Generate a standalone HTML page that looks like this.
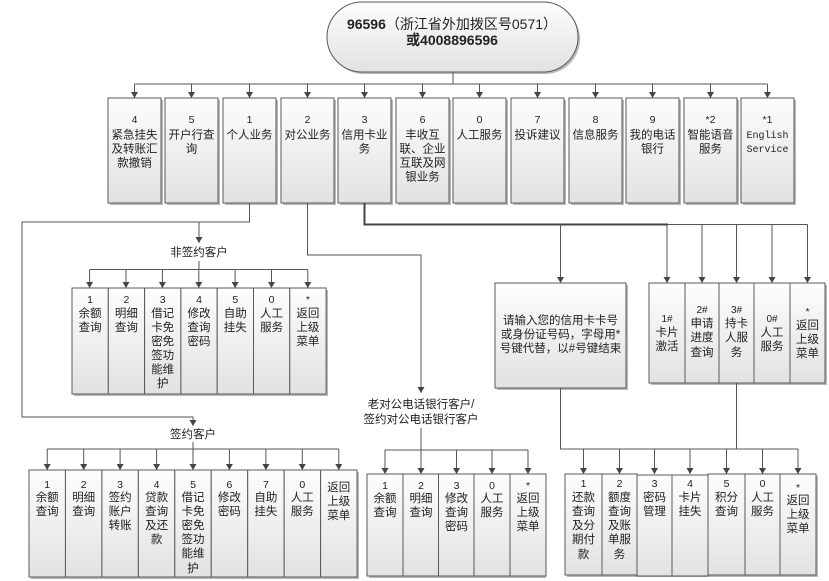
<!DOCTYPE html>
<html><head><meta charset="utf-8"><style>
html,body{margin:0;padding:0;background:#fff;}
svg{display:block;}
text{font-family:"Liberation Sans","Noto Sans CJK SC",sans-serif;font-size:11.5px;fill:#222;text-anchor:middle;}
.d{font-size:10.5px;}
.s{font-size:10px;}
.m{font-family:"Liberation Mono",monospace;font-size:10px;}
.ln{fill:none;stroke:#555;stroke-width:1;}
.ar{fill:none;stroke:#555;stroke-width:1;marker-end:url(#a);}
.bx{fill:url(#g);stroke:#5a5a5a;stroke-width:1;}
.sh{fill:#b8b8b8;stroke:none;}
</style></head><body>
<svg width="829" height="581" viewBox="0 0 829 581" xmlns="http://www.w3.org/2000/svg">
<defs>
<linearGradient id="g" x1="0" y1="0" x2="0" y2="1"><stop offset="0" stop-color="#fdfdfd"/><stop offset="1" stop-color="#e2e2e2"/></linearGradient>
<marker id="a" markerUnits="userSpaceOnUse" markerWidth="8" markerHeight="8" refX="6" refY="3.5" orient="auto"><path d="M0,0 L6,3.5 L0,7 z" fill="#444"/></marker>
</defs>

<!-- top pill -->
<rect x="329" y="4" width="251" height="70" rx="35" class="sh"/>
<rect x="327" y="2" width="251" height="70" rx="35" class="bx"/>
<text x="452" y="29" style="font-size:14px"><tspan font-weight="bold">96596</tspan>（浙江省外加拨区号0571）</text>
<text x="452" y="45" style="font-size:14px;font-weight:bold">或4008896596</text>

<!-- top connectors -->
<path class="ln" d="M453,72 V84 M134.5,84 H767.5"/>
<path class="ar" d="M134.5,84 V98"/><path class="ar" d="M191.5,84 V98"/><path class="ar" d="M249.5,84 V98"/><path class="ar" d="M307.5,84 V98"/>
<path class="ar" d="M364.5,84 V98"/><path class="ar" d="M422.5,84 V98"/><path class="ar" d="M479.5,84 V98"/><path class="ar" d="M537.5,84 V98"/>
<path class="ar" d="M595.5,84 V98"/><path class="ar" d="M652.5,84 V98"/><path class="ar" d="M710.5,84 V98"/><path class="ar" d="M767.5,84 V98"/>

<!-- row 1 boxes -->
<g>
<rect x="110" y="100" width="53" height="105" class="sh"/><rect x="108" y="98" width="53" height="105" class="bx"/>
<rect x="167" y="100" width="53" height="105" class="sh"/><rect x="165" y="98" width="53" height="105" class="bx"/>
<rect x="225" y="100" width="53" height="105" class="sh"/><rect x="223" y="98" width="53" height="105" class="bx"/>
<rect x="283" y="100" width="53" height="105" class="sh"/><rect x="281" y="98" width="53" height="105" class="bx"/>
<rect x="340" y="100" width="53" height="105" class="sh"/><rect x="338" y="98" width="53" height="105" class="bx"/>
<rect x="398" y="100" width="53" height="105" class="sh"/><rect x="396" y="98" width="53" height="105" class="bx"/>
<rect x="455" y="100" width="53" height="105" class="sh"/><rect x="453" y="98" width="53" height="105" class="bx"/>
<rect x="513" y="100" width="53" height="105" class="sh"/><rect x="511" y="98" width="53" height="105" class="bx"/>
<rect x="571" y="100" width="53" height="105" class="sh"/><rect x="569" y="98" width="53" height="105" class="bx"/>
<rect x="628" y="100" width="53" height="105" class="sh"/><rect x="626" y="98" width="53" height="105" class="bx"/>
<rect x="686" y="100" width="53" height="105" class="sh"/><rect x="684" y="98" width="53" height="105" class="bx"/>
<rect x="743" y="100" width="53" height="105" class="sh"/><rect x="741" y="98" width="53" height="105" class="bx"/>
</g>
<text class="d" x="134.5" y="123">4</text><text x="134.5" y="138.5">紧急挂失</text><text x="134.5" y="152.5">及转账汇</text><text x="134.5" y="166.5">款撤销</text>
<text class="d" x="191.5" y="123">5</text><text x="191.5" y="138.5">开户行查</text><text x="191.5" y="152.5">询</text>
<text class="d" x="249.5" y="123">1</text><text x="249.5" y="138.5">个人业务</text>
<text class="d" x="307.5" y="123">2</text><text x="307.5" y="138.5">对公业务</text>
<text class="d" x="364.5" y="123">3</text><text x="364.5" y="138.5">信用卡业</text><text x="364.5" y="152.5">务</text>
<text class="d" x="422.5" y="123">6</text><text x="422.5" y="138.5">丰收互</text><text x="422.5" y="152.5">联、企业</text><text x="422.5" y="166.5">互联及网</text><text x="422.5" y="180.5">银业务</text>
<text class="d" x="479.5" y="123">0</text><text x="479.5" y="138.5">人工服务</text>
<text class="d" x="537.5" y="123">7</text><text x="537.5" y="138.5">投诉建议</text>
<text class="d" x="595.5" y="123">8</text><text x="595.5" y="138.5">信息服务</text>
<text class="d" x="652.5" y="123">9</text><text x="652.5" y="138.5">我的电话</text><text x="652.5" y="152.5">银行</text>
<text class="d" x="710.5" y="123">*2</text><text x="710.5" y="138.5">智能语音</text><text x="710.5" y="152.5">服务</text>
<text class="d" x="767.5" y="123">*1</text><text class="m" x="767.5" y="138">English</text><text class="m" x="767.5" y="152">Service</text>

<!-- personal business connectors -->
<path class="ar" d="M249.5,203 V222 H22 V417 H193 V426"/>
<path class="ar" d="M199,222 V243"/>
<text x="199" y="256">非签约客户</text>
<path class="ln" d="M199,261 V269.5 M89.6,269.5 H307.8"/>
<path class="ar" d="M89.6,269.5 V288"/><path class="ar" d="M126,269.5 V288"/><path class="ar" d="M162.4,269.5 V288"/><path class="ar" d="M198.8,269.5 V288"/>
<path class="ar" d="M235.1,269.5 V288"/><path class="ar" d="M271.5,269.5 V288"/><path class="ar" d="M307.8,269.5 V288"/>

<!-- non-signed boxes -->
<rect x="74" y="290" width="254" height="106" class="sh"/>
<rect x="72" y="288" width="36.3" height="106" class="bx"/>
<rect x="108.3" y="288" width="36.3" height="106" class="bx"/>
<rect x="144.6" y="288" width="36.3" height="106" class="bx"/>
<rect x="180.9" y="288" width="36.3" height="106" class="bx"/>
<rect x="217.2" y="288" width="36.3" height="106" class="bx"/>
<rect x="253.5" y="288" width="36.3" height="106" class="bx"/>
<rect x="289.8" y="288" width="36.3" height="106" class="bx"/>
<text class="d" x="90.1" y="303">1</text><text x="90.1" y="317">余额</text><text x="90.1" y="331">查询</text>
<text class="d" x="126.4" y="303">2</text><text x="126.4" y="317">明细</text><text x="126.4" y="331">查询</text>
<text class="d" x="162.7" y="303">3</text><text x="162.7" y="317">借记</text><text x="162.7" y="331">卡免</text><text x="162.7" y="345">密免</text><text x="162.7" y="359">签功</text><text x="162.7" y="373">能维</text><text x="162.7" y="387">护</text>
<text class="d" x="199" y="303">4</text><text x="199" y="317">修改</text><text x="199" y="331">查询</text><text x="199" y="345">密码</text>
<text class="d" x="235.3" y="303">5</text><text x="235.3" y="317">自助</text><text x="235.3" y="331">挂失</text>
<text class="d" x="271.6" y="303">0</text><text x="271.6" y="317">人工</text><text x="271.6" y="331">服务</text>
<text class="d" x="307.9" y="303">*</text><text x="307.9" y="317">返回</text><text x="307.9" y="331">上级</text><text x="307.9" y="345">菜单</text>

<!-- signed -->
<text x="193" y="438">签约客户</text>
<path class="ln" d="M193,442 V449 M47.2,449 H338.8"/>
<path class="ar" d="M47.2,449 V470"/><path class="ar" d="M83.7,449 V470"/><path class="ar" d="M120.1,449 V470"/><path class="ar" d="M156.6,449 V470"/>
<path class="ar" d="M193,449 V470"/><path class="ar" d="M229.4,449 V470"/><path class="ar" d="M265.9,449 V470"/><path class="ar" d="M302.3,449 V470"/><path class="ar" d="M338.8,449 V470"/>
<rect x="31" y="472" width="328" height="107" class="sh"/>
<rect x="29" y="470" width="36.45" height="107" class="bx"/>
<rect x="65.45" y="470" width="36.45" height="107" class="bx"/>
<rect x="101.9" y="470" width="36.45" height="107" class="bx"/>
<rect x="138.35" y="470" width="36.45" height="107" class="bx"/>
<rect x="174.8" y="470" width="36.45" height="107" class="bx"/>
<rect x="211.25" y="470" width="36.45" height="107" class="bx"/>
<rect x="247.7" y="470" width="36.45" height="107" class="bx"/>
<rect x="284.15" y="470" width="36.45" height="107" class="bx"/>
<rect x="320.6" y="470" width="36.45" height="107" class="bx"/>
<text class="d" x="47.2" y="488">1</text><text x="47.2" y="501">余额</text><text x="47.2" y="515">查询</text>
<text class="d" x="83.7" y="488">2</text><text x="83.7" y="501">明细</text><text x="83.7" y="515">查询</text>
<text class="d" x="120.1" y="488">3</text><text x="120.1" y="501">签约</text><text x="120.1" y="515">账户</text><text x="120.1" y="529">转账</text>
<text class="d" x="156.6" y="488">4</text><text x="156.6" y="501">贷款</text><text x="156.6" y="515">查询</text><text x="156.6" y="529">及还</text><text x="156.6" y="543">款</text>
<text class="d" x="193" y="488">5</text><text x="193" y="501">借记</text><text x="193" y="515">卡免</text><text x="193" y="529">密免</text><text x="193" y="543">签功</text><text x="193" y="557">能维</text><text x="193" y="572">护</text>
<text class="d" x="229.4" y="488">6</text><text x="229.4" y="501">修改</text><text x="229.4" y="515">密码</text>
<text class="d" x="265.9" y="488">7</text><text x="265.9" y="501">自助</text><text x="265.9" y="515">挂失</text>
<text class="d" x="302.3" y="488">0</text><text x="302.3" y="501">人工</text><text x="302.3" y="515">服务</text>
<text x="338.8" y="491">返回</text><text x="338.8" y="505">上级</text><text x="338.8" y="519">菜单</text>

<!-- corporate -->
<path class="ar" d="M307.5,203 V255 H421 V393"/>
<text x="421" y="408">老对公电话银行客户/</text>
<text x="421" y="423">签约对公电话银行客户</text>
<path class="ln" d="M421,428 V450 M385,450 H528"/>
<path class="ar" d="M385,450 V474"/><path class="ar" d="M421,450 V474"/><path class="ar" d="M456.5,450 V474"/><path class="ar" d="M492,450 V474"/><path class="ar" d="M528,450 V474"/>
<rect x="369" y="476" width="177" height="102" class="sh"/>
<rect x="367" y="474" width="36" height="102" class="bx"/>
<rect x="403" y="474" width="35.5" height="102" class="bx"/>
<rect x="438.5" y="474" width="35.5" height="102" class="bx"/>
<rect x="474" y="474" width="36" height="102" class="bx"/>
<rect x="510" y="474" width="36" height="102" class="bx"/>
<text class="d" x="385" y="489">1</text><text x="385" y="502">余额</text><text x="385" y="516">查询</text>
<text class="d" x="421" y="489">2</text><text x="421" y="502">明细</text><text x="421" y="516">查询</text>
<text class="d" x="456.5" y="489">3</text><text x="456.5" y="502">修改</text><text x="456.5" y="516">查询</text><text x="456.5" y="530">密码</text>
<text class="d" x="492" y="489">0</text><text x="492" y="502">人工</text><text x="492" y="516">服务</text>
<text class="d" x="528" y="489">*</text><text x="528" y="502">返回</text><text x="528" y="516">上级</text><text x="528" y="530">菜单</text>

<!-- credit card -->
<path d="M364.5,203 V224.5 H668" fill="none" stroke="#444" stroke-width="2"/>
<path class="ln" d="M668,224.5 H807.5"/>
<path class="ar" d="M560.5,224.5 V283"/>
<path class="ar" d="M667,224.5 V283"/><path class="ar" d="M702,224.5 V283"/><path class="ar" d="M736.5,224.5 V283"/><path class="ar" d="M772,224.5 V283"/><path class="ar" d="M807.5,224.5 V283"/>
<rect x="497" y="285" width="131" height="105" class="sh"/>
<rect x="495" y="283" width="131" height="105" class="bx"/>
<text x="560.5" y="324">请输入您的信用卡卡号</text>
<text x="560.5" y="338">或身份证号码，字母用*</text>
<text x="560.5" y="352">号键代替，以#号键结束</text>
<rect x="651" y="285" width="176" height="100" class="sh"/>
<rect x="649" y="283" width="36" height="100" class="bx"/>
<rect x="685" y="283" width="34" height="100" class="bx"/>
<rect x="719" y="283" width="35" height="100" class="bx"/>
<rect x="754" y="283" width="36" height="100" class="bx"/>
<rect x="790" y="283" width="35" height="100" class="bx"/>
<text class="s" x="667" y="322">1#</text><text x="667" y="336">卡片</text><text x="667" y="350">激活</text>
<text class="s" x="702" y="313">2#</text><text x="702" y="327">申请</text><text x="702" y="341">进度</text><text x="702" y="356">查询</text>
<text class="s" x="736.5" y="313">3#</text><text x="736.5" y="327">持卡</text><text x="736.5" y="341">人服</text><text x="736.5" y="356">务</text>
<text class="s" x="772" y="322">0#</text><text x="772" y="336">人工</text><text x="772" y="350">服务</text>
<text class="d" x="807.5" y="315">*</text><text x="807.5" y="329">返回</text><text x="807.5" y="343">上级</text><text x="807.5" y="357">菜单</text>

<!-- credit bottom -->
<path class="ln" d="M560.5,388 V449 H798 M736.5,383 V449"/>
<path class="ar" d="M583.5,449 V474"/><path class="ar" d="M619.5,449 V474"/><path class="ar" d="M654.5,449 V474"/><path class="ar" d="M690,449 V474"/>
<path class="ar" d="M726.5,449 V474"/><path class="ar" d="M762.5,449 V474"/><path class="ar" d="M798,449 V474"/>
<rect x="567" y="476" width="251" height="101" class="sh"/>
<rect x="565" y="474" width="37" height="101" class="bx"/>
<rect x="602" y="474" width="35" height="101" class="bx"/>
<rect x="637" y="475" width="35" height="101" class="bx"/>
<rect x="672" y="475" width="36" height="101" class="bx"/>
<rect x="708" y="474" width="37" height="101" class="bx"/>
<rect x="745" y="474" width="35" height="101" class="bx"/>
<rect x="780" y="474" width="36" height="101" class="bx"/>
<text class="d" x="583.5" y="487">1</text><text x="583.5" y="501">还款</text><text x="583.5" y="515">查询</text><text x="583.5" y="529">及分</text><text x="583.5" y="543">期付</text><text x="583.5" y="558">款</text>
<text class="d" x="619.5" y="487">2</text><text x="619.5" y="501">额度</text><text x="619.5" y="515">查询</text><text x="619.5" y="529">及账</text><text x="619.5" y="543">单服</text><text x="619.5" y="558">务</text>
<text class="d" x="654.5" y="487">3</text><text x="654.5" y="501">密码</text><text x="654.5" y="515">管理</text>
<text class="d" x="690" y="487">4</text><text x="690" y="501">卡片</text><text x="690" y="515">挂失</text>
<text class="d" x="726.5" y="487">5</text><text x="726.5" y="501">积分</text><text x="726.5" y="515">查询</text>
<text class="d" x="762.5" y="487">0</text><text x="762.5" y="501">人工</text><text x="762.5" y="515">服务</text>
<text class="d" x="798" y="491">*</text><text x="798" y="504">返回</text><text x="798" y="518">上级</text><text x="798" y="532">菜单</text>
</svg>
</body></html>
